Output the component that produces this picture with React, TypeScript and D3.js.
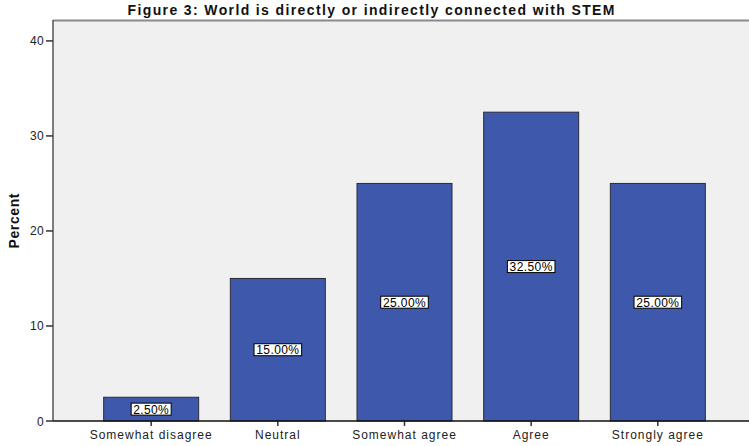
import React from "react";
import * as d3 from "d3";

const categories = ["Somewhat disagree", "Neutral", "Somewhat agree", "Agree", "Strongly agree"];
const percents = [2.5, 15, 25, 32.5, 25];
const yTicks = [0, 10, 20, 30, 40];
const title = "Figure 3: World is directly or indirectly connected with STEM";
const yLabel = "Percent";

const W = 749;
const H = 446;
const plot = { left: 53, top: 20, right: 756, bottom: 421 };

export default function App() {
  const x = d3
    .scaleBand<string>()
    .domain(categories)
    .range([plot.left, plot.right])
    .paddingInner(0.25)
    .paddingOuter(0.4);
  const y = d3.scaleLinear().domain([0, 42.2]).range([plot.bottom, plot.top]);

  const font = "'Liberation Sans', Arial, sans-serif";

  return (
    <div style={{ position: "absolute", left: 0, top: 0 }}>
      <svg width={W} height={H} style={{ display: "block", background: "#fff" }} fontFamily={font}>
        <rect x={plot.left} y={plot.top} width={plot.right - plot.left} height={plot.bottom - plot.top} fill="#f0f0f0" />
        <line x1={plot.left} x2={W} y1={plot.top + 0.5} y2={plot.top + 0.5} stroke="#8a8a8a" strokeWidth={2} />

        {categories.map((c, i) => {
          const v = percents[i];
          const bx = x(c)!;
          const bw = x.bandwidth();
          const top = y(v);
          const mid = (top + y(0)) / 2;
          const label = v.toFixed(2) + "%";
          const lw = label.length * 7.6 + 2;
          return (
            <g key={c}>
              <rect x={bx} y={top} width={bw} height={y(0) - top} fill="#3e58ac" stroke="#2a2a3a" strokeWidth={1} />
              <rect x={bx + bw / 2 - lw / 2} y={mid - 6} width={lw} height={12} fill="#fff" stroke="#000" strokeWidth={1} />
              <text x={bx + bw / 2} y={mid + 4.5} textAnchor="middle" fontSize={12} fill="#000" letterSpacing={0.4}>
                {label}
              </text>
              <line x1={bx + bw / 2} x2={bx + bw / 2} y1={plot.bottom} y2={plot.bottom + 5} stroke="#333" strokeWidth={1.5} />
              <text x={bx + bw / 2} y={439} textAnchor="middle" fontSize={12} fill="#222" letterSpacing={1}>
                {c}
              </text>
            </g>
          );
        })}

        <line x1={plot.left} x2={plot.left} y1={plot.top} y2={plot.bottom} stroke="#555" strokeWidth={1.5} />
        <line x1={plot.left} x2={W} y1={plot.bottom} y2={plot.bottom} stroke="#111" strokeWidth={1.5} />

        {yTicks.map((t) => (
          <g key={t}>
            <line x1={plot.left - 7} x2={plot.left} y1={y(t)} y2={y(t)} stroke="#333" strokeWidth={1.5} />
            <text x={plot.left - 9} y={y(t) + 4.5} textAnchor="end" fontSize={12} fill="#222" letterSpacing={0.3}>
              {t}
            </text>
          </g>
        ))}

        <text
          transform={`translate(19, 221) rotate(-90)`}
          textAnchor="middle"
          fontSize={14}
          fontWeight="bold"
          fill="#111"
          textLength={55}
          lengthAdjust="spacing"
        >
          {yLabel}
        </text>

        <text
          x={371}
          y={15}
          textAnchor="middle"
          fontSize={14}
          fontWeight="bold"
          fill="#111"
          textLength={487}
          lengthAdjust="spacing"
        >
          {title}
        </text>
      </svg>
    </div>
  );
}
